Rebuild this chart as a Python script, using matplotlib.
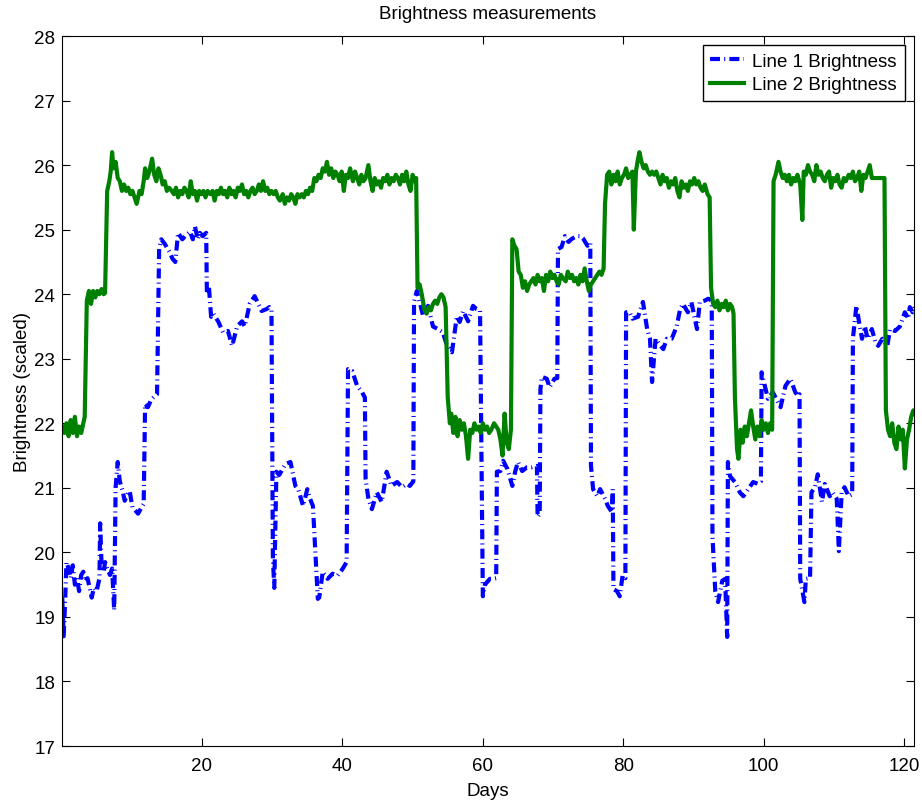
import numpy as np
import matplotlib.pyplot as plt

plt.rcParams['font.family'] = ['Liberation Sans', 'DejaVu Sans']

# Line 1 brightness (day, value)
days1 = [0.1, 0.3, 0.5, 0.7, 1.0, 1.3, 1.6, 1.9, 2.2, 2.5, 2.8, 3.1, 3.4, 3.7, 4.0, 4.3, 4.6, 5.0, 5.4, 5.5,
         5.7, 6.0, 6.2, 6.5, 6.9, 7.2, 7.5, 7.7, 8.0, 8.3, 8.7, 9.0, 9.4, 9.7, 10.1, 10.5, 10.9, 11.4, 11.7, 11.9,
         12.3, 12.7, 13.1, 13.6, 13.9, 14.2, 14.7, 15.4, 15.8, 16.2, 16.6, 17.2, 17.6, 18.3, 18.7, 19.0, 19.4, 19.7, 20.1, 20.6,
         20.7, 21.0, 21.3, 21.6, 22.3, 23.0, 23.7, 24.3, 25.0, 25.7, 26.1, 26.8, 27.5, 27.9, 28.5, 29.2, 29.6, 29.9, 30.1, 30.3,
         30.4, 30.6, 31.0, 31.9, 32.6, 33.3, 33.7, 34.4, 35.0, 35.4, 35.8, 36.5, 36.7, 37.2, 37.9, 38.6, 39.3, 40.0, 40.6, 40.8,
         41.4, 42.1, 42.8, 43.2, 43.3, 43.7, 44.2, 44.9, 45.6, 46.3, 47.0, 47.8, 48.5, 49.2, 49.6, 50.1, 50.2, 50.6, 51.5, 52.2,
         52.9, 53.6, 54.3, 54.9, 55.6, 56.3, 56.7, 57.2, 57.9, 58.6, 59.1, 59.6, 60.0, 60.3, 61.0, 61.4, 61.9, 62.0, 62.5, 62.9,
         63.5, 64.2, 64.6, 65.0, 65.6, 66.3, 67.0, 67.7, 67.8, 68.1, 68.2, 68.4, 69.1, 69.5, 70.2, 70.6, 70.7, 71.2, 71.7, 72.2,
         72.7, 73.4, 73.9, 74.3, 74.9, 75.3, 75.4, 75.7, 76.3, 76.7, 77.4, 77.8, 78.4, 78.5, 78.6, 79.1, 79.5, 79.9, 80.3, 80.4,
         80.9, 81.3, 82.1, 82.8, 83.4, 83.8, 84.1, 84.6, 85.3, 85.7, 86.2, 86.9, 87.6, 88.1, 88.5, 89.2, 89.7, 90.2, 90.5, 90.9,
         91.6, 92.1, 92.6, 92.7, 93.1, 93.5, 94.1, 94.5, 94.8, 94.9, 95.2, 95.9, 96.6, 97.1, 97.8, 98.5, 99.2, 99.6, 99.7, 100.2,
         100.6, 101.3, 102.4, 103.1, 103.8, 104.5, 104.9, 105.1, 105.2, 105.8, 106.0, 106.6, 106.8, 107.3, 107.7, 108.3, 108.7, 109.4, 109.8, 110.4,
         110.7, 111.1, 111.5, 112.1, 112.6, 112.7, 113.2, 113.5, 114.0, 114.4, 114.8, 115.4, 115.9, 116.3, 116.9, 117.6, 118.0, 118.7, 119.4, 120.1,
         120.6, 120.8, 121.2, 121.5]
line1 = [19.3, 18.7, 19.2, 19.85, 19.75, 19.6, 19.8, 19.5, 19.6, 19.4, 19.65, 19.7, 19.55, 19.6, 19.45, 19.3, 19.45, 19.4, 19.6, 20.45,
         19.8, 19.7, 19.85, 19.75, 19.65, 19.75, 19.1, 21.0, 21.4, 21.1, 20.95, 20.8, 20.9, 20.95, 20.7, 20.65, 20.6, 20.7, 20.75, 22.3,
         22.25, 22.35, 22.4, 22.45, 24.7, 24.85, 24.78, 24.65, 24.55, 24.5, 24.95, 24.85, 24.9, 24.97, 24.85, 25.05, 24.85, 24.95, 24.9, 24.95,
         24.0, 24.1, 23.65, 23.7, 23.58, 23.41, 23.43, 23.2, 23.5, 23.58, 23.5, 23.85, 23.97, 23.88, 23.74, 23.77, 23.8, 23.75, 19.9, 19.45,
         20.1, 21.25, 21.2, 21.37, 21.4, 21.03, 20.98, 20.72, 20.98, 20.83, 20.72, 19.28, 19.3, 19.7, 19.59, 19.67, 19.64, 19.74, 19.85, 22.84,
         22.81, 22.58, 22.48, 22.4, 21.14, 20.83, 20.67, 20.93, 20.78, 21.25, 21.03, 21.09, 21.01, 21.06, 21.03, 21.1, 23.88, 24.05, 23.66, 23.82,
         23.5, 23.46, 23.41, 23.2, 23.1, 23.66, 23.57, 23.74, 23.58, 23.82, 23.77, 23.75, 19.32, 19.5, 19.59, 19.59, 19.6, 21.25, 21.26, 21.42,
         21.29, 21.03, 21.25, 21.4, 21.26, 21.32, 21.32, 21.34, 20.55, 20.6, 22.53, 22.72, 22.69, 22.56, 22.69, 22.7, 24.7, 24.73, 24.9, 24.81,
         24.86, 24.9, 24.9, 24.86, 24.75, 24.8, 21.34, 20.98, 20.87, 20.98, 20.83, 20.72, 20.62, 20.98, 19.43, 19.4, 19.32, 19.64, 19.6, 23.72,
         23.72, 23.62, 23.65, 23.88, 23.46, 23.31, 22.64, 23.31, 23.2, 23.15, 23.31, 23.31, 23.5, 23.77, 23.85, 23.72, 23.88, 23.62, 23.46, 23.88,
         23.9, 23.93, 23.9, 20.25, 19.4, 19.23, 19.56, 19.59, 18.69, 21.4, 21.18, 21.09, 20.93, 20.87, 20.98, 21.09, 21.06, 21.1, 22.79, 22.56,
         22.38, 22.48, 22.25, 22.58, 22.69, 22.48, 22.42, 22.45, 19.59, 19.23, 19.59, 19.6, 20.93, 21.01, 21.21, 20.78, 21.06, 20.87, 20.93, 20.83,
         20.02, 20.93, 21.01, 20.87, 20.9, 23.31, 23.82, 23.62, 23.31, 23.5, 23.31, 23.46, 23.26, 23.2, 23.31, 23.2, 23.46, 23.43, 23.5, 23.72,
         23.62, 23.8, 23.72, 23.8]

# Line 2 brightness (day, value)
days2 = [0.1, 0.4, 0.7, 1.0, 1.3, 1.6, 1.9, 2.2, 2.5, 2.8, 3.1, 3.3, 3.6, 3.9, 4.2, 4.5, 4.8, 5.1, 5.4, 5.7,
         6.0, 6.2, 6.5, 6.8, 7.0, 7.2, 7.4, 7.7, 8.0, 8.3, 8.6, 8.9, 9.2, 9.5, 9.8, 10.1, 10.4, 10.7, 11.1, 11.4,
         11.7, 11.9, 12.2, 12.5, 12.9, 13.2, 13.5, 13.8, 14.1, 14.4, 14.7, 15.0, 15.3, 15.7, 16.0, 16.3, 16.6, 16.9, 17.2, 17.5,
         17.8, 18.1, 18.4, 18.7, 19.0, 19.3, 19.6, 19.9, 20.2, 20.5, 20.8, 21.2, 21.5, 21.8, 22.1, 22.4, 22.7, 23.0, 23.3, 23.6,
         23.9, 24.2, 24.5, 24.8, 25.1, 25.4, 25.7, 26.0, 26.3, 26.6, 26.9, 27.2, 27.5, 27.8, 28.1, 28.4, 28.7, 29.0, 29.3, 29.6,
         29.9, 30.2, 30.5, 30.8, 31.1, 31.5, 31.8, 32.1, 32.4, 32.7, 33.0, 33.3, 33.6, 33.9, 34.2, 34.5, 34.8, 35.1, 35.4, 35.7,
         36.0, 36.3, 36.6, 36.9, 37.2, 37.5, 37.8, 38.1, 38.4, 38.7, 39.0, 39.3, 39.6, 39.9, 40.2, 40.5, 40.8, 41.1, 41.5, 41.8,
         42.1, 42.4, 42.7, 43.0, 43.3, 43.7, 44.0, 44.3, 44.6, 44.9, 45.2, 45.5, 45.8, 46.1, 46.4, 46.7, 47.0, 47.3, 47.6, 47.9,
         48.2, 48.5, 48.8, 49.1, 49.4, 49.7, 50.0, 50.3, 50.5, 50.7, 51.0, 51.3, 51.7, 52.0, 52.3, 52.6, 52.9, 53.2, 53.5, 53.8,
         54.1, 54.4, 54.7, 55.0, 55.3, 55.5, 55.8, 56.1, 56.4, 56.7, 57.0, 57.3, 57.6, 57.9, 58.2, 58.5, 58.8, 59.1, 59.4, 59.7,
         60.0, 60.3, 60.6, 60.9, 61.2, 61.6, 61.9, 62.2, 62.5, 62.8, 63.1, 63.4, 63.7, 64.0, 64.2, 64.5, 64.8, 65.1, 65.4, 65.7,
         66.0, 66.3, 66.6, 66.9, 67.2, 67.5, 67.8, 68.1, 68.4, 68.7, 69.0, 69.3, 69.6, 69.9, 70.2, 70.5, 70.8, 71.1, 71.4, 71.8,
         72.1, 72.4, 72.7, 73.0, 73.3, 73.6, 73.9, 74.2, 74.5, 74.8, 75.1, 75.4, 75.7, 76.0, 76.3, 76.6, 76.9, 77.2, 77.4, 77.7,
         78.0, 78.3, 78.6, 78.9, 79.2, 79.5, 79.8, 80.1, 80.4, 80.7, 81.0, 81.3, 81.5, 81.8, 82.1, 82.3, 82.6, 82.9, 83.2, 83.5,
         83.8, 84.1, 84.4, 84.7, 85.0, 85.3, 85.6, 85.9, 86.2, 86.5, 86.8, 87.1, 87.4, 87.7, 88.0, 88.3, 88.6, 88.9, 89.2, 89.5,
         89.8, 90.1, 90.4, 90.7, 91.0, 91.3, 91.6, 92.0, 92.3, 92.5, 92.8, 93.1, 93.4, 93.7, 94.0, 94.3, 94.6, 94.9, 95.2, 95.5,
         95.7, 95.9, 96.2, 96.4, 96.7, 97.0, 97.3, 97.6, 97.9, 98.2, 98.5, 98.8, 99.1, 99.4, 99.7, 100.0, 100.3, 100.6, 100.9, 101.2,
         101.4, 101.7, 102.1, 102.4, 102.7, 103.0, 103.3, 103.6, 103.9, 104.2, 104.5, 104.8, 105.2, 105.5, 105.7, 106.0, 106.3, 106.6, 106.9, 107.2,
         107.5, 107.8, 108.1, 108.4, 108.7, 109.0, 109.3, 109.6, 109.9, 110.2, 110.5, 110.8, 111.1, 111.4, 111.7, 112.1, 112.4, 112.7, 113.0, 113.3,
         113.6, 113.9, 114.2, 114.5, 114.8, 115.1, 115.4, 115.7, 116.3, 116.9, 117.2, 117.4, 117.7, 118.0, 118.3, 118.6, 118.9, 119.2, 119.5, 119.8,
         120.1, 120.4, 120.7, 121.0, 121.3, 121.5]
line2 = [21.95, 21.85, 22.0, 21.8, 22.05, 21.85, 22.1, 21.8, 21.95, 21.85, 22.0, 22.1, 23.9, 24.05, 23.85, 24.05, 23.95, 24.05, 24.0, 24.08,
         24.0, 24.02, 25.6, 25.75, 25.9, 26.2, 25.95, 26.05, 25.8, 25.75, 25.6, 25.7, 25.6, 25.65, 25.55, 25.6, 25.5, 25.4, 25.6, 25.55,
         25.75, 25.95, 25.8, 25.9, 26.1, 25.85, 25.75, 25.95, 25.85, 25.7, 25.75, 25.6, 25.65, 25.6, 25.55, 25.65, 25.5, 25.6, 25.55, 25.65,
         25.6, 25.5, 25.75, 25.55, 25.6, 25.45, 25.6, 25.55, 25.6, 25.5, 25.6, 25.55, 25.6, 25.45, 25.6, 25.55, 25.65, 25.55, 25.6, 25.5,
         25.65, 25.55, 25.6, 25.5, 25.65, 25.6, 25.7, 25.55, 25.6, 25.5, 25.6, 25.65, 25.55, 25.6, 25.7, 25.6, 25.75, 25.6, 25.65, 25.55,
         25.6, 25.55, 25.6, 25.5, 25.45, 25.55, 25.4, 25.5, 25.45, 25.55, 25.5, 25.4, 25.55, 25.5, 25.55, 25.5, 25.6, 25.55, 25.65, 25.6,
         25.8, 25.75, 25.85, 25.8, 25.95, 25.9, 26.05, 25.85, 25.95, 25.8, 25.9, 25.85, 25.75, 25.9, 25.6, 25.85, 25.8, 25.95, 25.75, 25.9,
         25.8, 25.7, 25.85, 25.75, 25.8, 26.0, 25.75, 25.6, 25.8, 25.7, 25.75, 25.65, 25.8, 25.75, 25.85, 25.7, 25.8, 25.75, 25.85, 25.8,
         25.7, 25.85, 25.75, 25.9, 25.7, 25.6, 25.85, 25.75, 25.8, 24.1, 24.15, 24.0, 23.75, 23.7, 23.8, 23.75, 23.85, 23.9, 23.85, 23.95,
         24.0, 23.95, 23.8, 22.4, 22.0, 22.15, 21.85, 22.1, 21.8, 22.05, 21.9, 22.0, 21.8, 21.45, 21.9, 21.85, 22.0, 21.9, 21.95, 21.85,
         22.0, 21.9, 21.95, 21.85, 21.9, 22.0, 21.95, 21.9, 21.75, 21.5, 22.15, 21.7, 21.6, 21.9, 24.85, 24.75, 24.7, 24.35, 24.3, 24.1,
         24.2, 24.05, 24.15, 24.2, 24.25, 24.15, 24.3, 24.2, 24.25, 24.05, 24.3, 24.2, 24.35, 24.25, 24.3, 24.2, 24.15, 24.3, 24.25, 24.2,
         24.35, 24.25, 24.3, 24.2, 24.25, 24.15, 24.3, 24.2, 24.4, 24.2, 24.05, 24.15, 24.2, 24.25, 24.3, 24.35, 24.3, 24.4, 25.4, 25.85,
         25.9, 25.7, 25.85, 25.75, 25.9, 25.7, 25.8, 25.85, 25.95, 25.8, 25.85, 25.9, 25.0, 25.9, 26.1, 26.2, 26.05, 25.95, 26.0, 25.9,
         25.85, 25.9, 25.85, 25.9, 25.8, 25.7, 25.85, 25.75, 25.8, 25.65, 25.75, 25.7, 25.8, 25.6, 25.5, 25.75, 25.65, 25.7, 25.6, 25.75,
         25.7, 25.8, 25.7, 25.75, 25.65, 25.6, 25.7, 25.55, 25.5, 24.1, 23.85, 23.8, 23.9, 23.75, 23.85, 23.8, 23.9, 23.75, 23.85, 23.8,
         23.7, 22.4, 21.6, 21.45, 21.9, 21.7, 21.95, 21.8, 22.0, 22.2, 21.95, 21.75, 21.95, 21.8, 22.05, 21.9, 22.0, 21.85, 22.0, 21.9,
         25.75, 25.85, 26.05, 25.9, 25.8, 25.85, 25.75, 25.85, 25.7, 25.8, 25.75, 25.85, 25.7, 25.15, 25.9, 25.85, 26.0, 25.9, 25.85, 25.75,
         26.0, 25.85, 25.9, 25.8, 25.75, 25.85, 25.9, 25.65, 25.8, 25.75, 25.85, 25.7, 25.65, 25.8, 25.75, 25.85, 25.8, 25.9, 25.75, 25.8,
         25.9, 25.6, 25.85, 25.8, 25.9, 26.0, 25.8, 25.8, 25.8, 25.8, 25.8, 22.2, 21.9, 21.8, 22.0, 21.7, 21.6, 21.95, 21.75, 21.9,
         21.3, 21.75, 21.9, 22.1, 22.2, 22.15]

fig = plt.figure(figsize=(9.22, 8.03), dpi=100)
ax = fig.add_axes([0.0672, 0.0697, 0.9241, 0.8842])

ax.plot(days1, line1, color='blue', lw=3, ls=(0, (2.4, 1.0, 0.25, 1.0)), label='Line 1 Brightness')
ax.plot(days2, line2, color='green', lw=3, label='Line 2 Brightness')

ax.set_xlim(0.06, 121.4)
ax.set_ylim(17, 28)
ax.set_xticks([20, 40, 60, 80, 100, 120])
ax.set_yticks(np.arange(17, 29, 1))
ax.tick_params(direction='in', length=6, top=True, right=True, labelsize=13.5)
ax.tick_params(axis='x', pad=8)
ax.tick_params(axis='y', pad=5)
ax.set_xlabel('Days', fontsize=13.5, labelpad=6)
ax.set_ylabel('Brightness (scaled)', fontsize=13.5, labelpad=2)
ax.set_title('Brightness measurements', fontsize=13.5, pad=13)

leg = ax.legend(loc='upper right', fontsize=13.5, fancybox=False, edgecolor='black',
                framealpha=1, handlelength=1.8, handletextpad=0.45, borderaxespad=0.5,
                borderpad=0.4, labelspacing=0.32)
leg.get_frame().set_linewidth(1)

plt.savefig('out.png', dpi=100)
